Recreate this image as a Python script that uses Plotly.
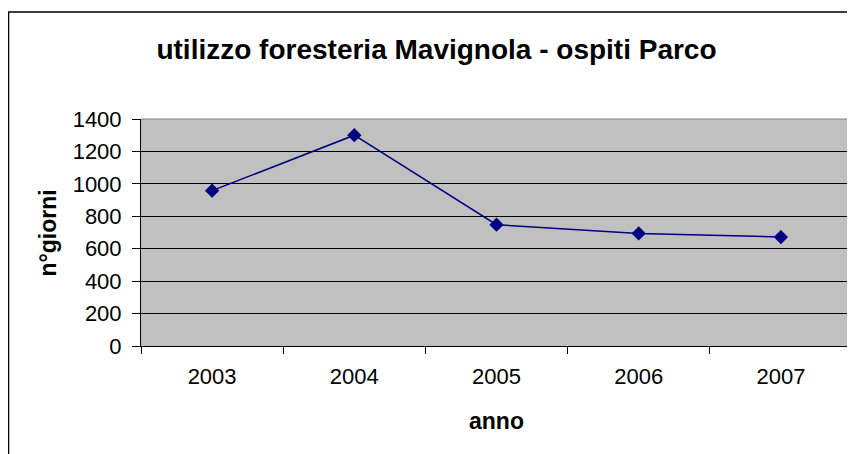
import plotly.graph_objects as go

years = ["2003", "2004", "2005", "2006", "2007"]
giorni = [958, 1300, 748, 694, 672]
y_ticks = [0, 200, 400, 600, 800, 1000, 1200, 1400]

# the page body adds an 8px offset; figure is sized to reach the window edges
W, H = 847, 446
L, T, R, B = 133, 111, 3, 108
fig = go.Figure()
fig.add_trace(go.Scatter(
    x=years, y=giorni, mode="lines+markers",
    line=dict(color="#000080", width=1.5),
    marker=dict(symbol="diamond", size=11, color="#000080"),
    showlegend=False,
))

font = "Liberation Sans, Arial, sans-serif"
pw = W - L - R
ph = H - T - B
fig.update_layout(
    width=W, height=H,
    margin=dict(l=L, r=R, t=T, b=B),
    paper_bgcolor="white", plot_bgcolor="#C0C0C0",
    font=dict(family=font, color="black", size=22),
    title=dict(text="<b>utilizzo foresteria Mavignola - ospiti Parco</b>",
               x=(436.5 - 8) / W, xanchor="center", xref="container",
               y=1 - 41 / H, yanchor="middle", yref="container",
               font=dict(size=28, family=font, color="black")),
    xaxis=dict(type="category", range=[-0.5, 4.5], tickson="boundaries",
               ticks="outside", ticklen=7, tickcolor="black",
               showline=True, linecolor="black", linewidth=1,
               showgrid=False, tickfont=dict(size=22), ticklabelstandoff=11),
    yaxis=dict(range=[0, 1400], tickvals=y_ticks, ticks="outside", ticklen=8,
               tickcolor="black", showline=True, linecolor="black", linewidth=1,
               showgrid=True, gridcolor="#000000", gridwidth=1, zeroline=False,
               tickfont=dict(size=22), ticklabelstandoff=6),
    annotations=[
        dict(text="<b>anno</b>", xref="paper", yref="paper",
             x=0.5, y=(ph - (413 - T)) / ph, showarrow=False,
             xanchor="center", yanchor="middle", font=dict(size=23)),
        dict(text="<b>n°giorni</b>", xref="paper", yref="paper",
             x=(39 - L) / pw, y=0.5, showarrow=False, textangle=-90,
             xanchor="center", yanchor="middle", font=dict(size=23)),
    ],
    shapes=[
        dict(type="line", xref="paper", yref="paper", x0=1, x1=1, y0=0, y1=1,
             line=dict(color="#808080", width=1.5)),
        dict(type="line", xref="paper", yref="paper", x0=0, x1=1, y0=1, y1=1,
             line=dict(color="#808080", width=1)),
        dict(type="rect", xref="paper", yref="paper",
             x0=(0.5 - L) / pw, x1=1.5, y0=-1.0, y1=(ph + T - 4) / ph,
             line=dict(color="black", width=1.5), fillcolor="rgba(0,0,0,0)", layer="below"),
    ],
)
fig.write_html("out.html")
